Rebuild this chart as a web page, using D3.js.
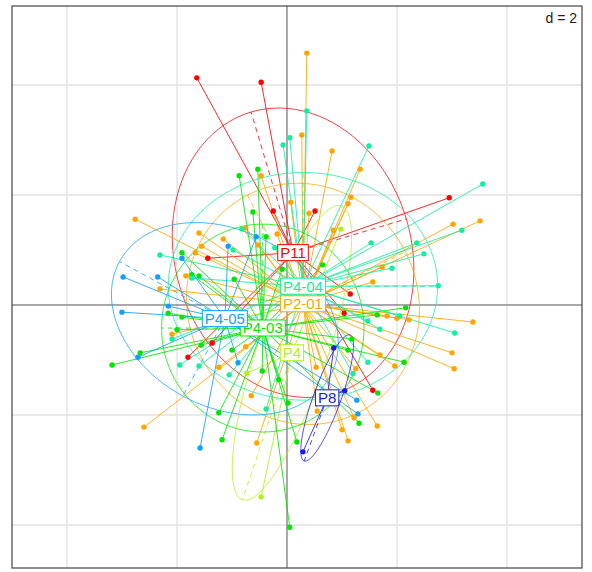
<!DOCTYPE html>
<html>
<head>
<meta charset="utf-8">
<script src="https://d3js.org/d3.v7.min.js"></script>
<style>
  body { margin: 0; background: #fff; }
  svg { display: block; }
</style>
</head>
<body>
<script>
// group names, drawing order and colours
const groups = ["P11", "P2-01", "P4", "P4-03", "P4-04", "P4-05", "P8"]
const colors = ["#ff0000", "#ffa500", "#b0f020", "#00e600", "#10f0a0", "#10a0ff", "#1a1ae6"]

// individual scores per group [x, y]
const ptsP11 = [[-1.64,4.13],[-0.47,4.05],[-0.25,1.71],[0.51,1.71],[2.95,1.95],[-1.44,0.85],
  [-1.36,-0.69],[-1.80,-0.95],[1.15,0.20],[1.04,-0.15],[1.56,-1.55]]
const ptsP201 = [[0.36,4.58],[0.27,3.09],[0.82,2.80],[1.33,2.47],[1.16,1.96],[1.11,1.84],[0.40,1.67],
  [0.84,1.36],[3.02,1.47],[3.51,1.53],[1.73,0.69],[1.56,0.42],[0.07,1.87],[-0.47,2.35],[-0.75,1.40],
  [-0.18,1.29],[-2.76,1.56],[-1.60,1.31],[-1.16,1.20],[-1.55,1.07],[-1.67,0.95],[-1.84,0.53],
  [-2.31,0.29],[-0.53,1.09],[-2.09,-0.53],[-2.60,-2.22],[-0.65,-1.65],[-0.55,-2.51],[-0.75,-0.76],
  [-1.24,-1.13],[1.82,-0.20],[2.00,-0.24],[2.22,-0.27],[3.38,-0.31],[3.00,-0.87],[3.04,-1.16],
  [1.69,-0.91],[1.96,-1.11],[1.25,-1.16],[0.53,-1.13],[1.64,-2.20],[1.00,-2.27],[1.11,-2.47],
  [1.22,-2.05],[0.55,-1.93]]
const ptsP4 = [[0.98,1.38],[-0.47,-3.49],[-0.73,-1.24]]
const ptsP403 = [[-0.87,2.35],[-0.53,2.47],[-0.62,1.69],[-0.38,1.24],[-1.91,0.95],[-1.73,0.55],
  [-1.60,0.53],[-0.96,0.47],[-0.09,0.65],[0.65,0.73],[-2.16,-0.15],[-1.91,-0.22],[-2.67,-0.87],
  [-3.18,-1.09],[-2.00,-0.45],[-1.56,-0.73],[-1.00,-0.82],[-1.24,-1.96],[-1.18,-2.45],[-0.45,-1.20],
  [-0.15,-1.36],[0.02,-1.78],[0.18,-2.49],[0.05,-4.04],[2.16,-0.05],[1.64,-0.18],[2.13,-1.04],
  [1.65,-1.60],[1.31,-2.15],[1.18,-0.62],[1.11,-0.82]]
const ptsP404 = [[0.05,3.04],[-0.07,2.91],[0.36,3.53],[1.49,2.89],[3.56,2.20],[3.18,1.36],[1.53,1.13],
  [2.36,1.13],[2.49,0.93],[1.91,0.67],[2.75,0.35],[-0.82,1.38],[-0.98,1.00],[-2.31,0.91],[-0.22,1.04],
  [1.47,-0.29],[1.69,-0.44],[3.05,-0.51],[1.47,-1.04],[1.20,-1.25],[2.05,-0.20],[-1.95,-1.09],
  [-1.60,-1.11],[-1.05,-1.27],[-0.38,-1.89],[-2.09,-0.62],[-1.73,0.49]]
const ptsP405 = [[-2.98,0.51],[-2.35,0.51],[-1.91,0.85],[-1.07,1.07],[-0.56,1.24],[-3.00,-0.13],
  [-2.16,-0.02],[-2.71,-0.95],[-1.58,-2.60],[-0.89,-1.05],[1.27,-1.73],[1.29,-1.98]]
const ptsP8 = [[0.29,-2.67],[0.85,-0.78],[1.05,-1.56]]
const points = [ptsP11, ptsP201, ptsP4, ptsP403, ptsP404, ptsP405, ptsP8]

// group centres (label positions)
const centres = [[0.11,0.95],[0.29,0.02],[0.09,-0.87],[-0.44,-0.42],[0.29,0.34],[-1.13,-0.25],[0.73,-1.69]]
// ellipses: semi-major, semi-minor, angle of major axis, angle of minor axis (degrees)
const ellipses = [[2.67,2.15,106.6,16.6],[2.22,2.09,117,27],[2.82,0.64,251.4,161.4],[1.89,1.84,90,180],
  [2.45,2.07,0,90],[2.18,1.60,151.5,241.5],[1.22,0.25,250,340]]

const gridTicks = [-4, -2, 0, 2, 4]
const gridLabel = "d = 2"

const width = 592, height = 572
const box = {left: 12, right: 582, top: 6, bottom: 568}

const x = d3.scaleLinear().domain([-5, 5.364]).range([box.left, box.right])
const y = d3.scaleLinear().domain([-4.782, 5.436]).range([box.bottom, box.top])

const svg = d3.select("body").append("svg")
  .attr("width", width)
  .attr("height", height)

svg.append("defs").append("clipPath").attr("id", "clip")
  .append("rect")
  .attr("x", box.left).attr("y", box.top)
  .attr("width", box.right - box.left).attr("height", box.bottom - box.top)

// grid
const grid = svg.append("g").attr("stroke", "#e2e2e2").attr("stroke-width", 1.3)
grid.selectAll(".gx").data(gridTicks.filter(d => d != 0)).join("line")
  .attr("x1", d => x(d)).attr("x2", d => x(d))
  .attr("y1", box.top).attr("y2", box.bottom)
grid.selectAll(".gy").data(gridTicks.filter(d => d != 0)).join("line")
  .attr("y1", d => y(d)).attr("y2", d => y(d))
  .attr("x1", box.left).attr("x2", box.right)

// axes through origin
svg.append("line").attr("x1", x(0)).attr("x2", x(0)).attr("y1", box.top).attr("y2", box.bottom)
  .attr("stroke", "#555").attr("stroke-width", 1)
svg.append("line").attr("y1", y(0)).attr("y2", y(0)).attr("x1", box.left).attr("x2", box.right)
  .attr("stroke", "#555").attr("stroke-width", 1)

const plot = svg.append("g").attr("clip-path", "url(#clip)")

function ellipsePath(c, e) {
  const [a, b, am] = e
  const r = am * Math.PI / 180
  const ux = Math.cos(r), uy = Math.sin(r)
  const pts = d3.range(0, 101).map(i => {
    const t = i / 100 * 2 * Math.PI
    const ex = c[0] + a * Math.cos(t) * ux - b * Math.sin(t) * uy
    const ey = c[1] + a * Math.cos(t) * uy + b * Math.sin(t) * ux
    return [x(ex), y(ey)]
  })
  return d3.line()(pts)
}

groups.forEach((g, i) => {
  const col = colors[i], c = centres[i], e = ellipses[i]
  const gg = plot.append("g")
  // stars
  gg.selectAll("line.star").data(points[i]).join("line")
    .attr("x1", x(c[0])).attr("y1", y(c[1]))
    .attr("x2", d => x(d[0])).attr("y2", d => y(d[1]))
    .attr("stroke", col).attr("stroke-opacity", 0.85).attr("stroke-width", 1)
  // ellipse
  gg.append("path").attr("d", ellipsePath(c, e))
    .attr("fill", "none").attr("stroke", col).attr("stroke-opacity", 0.75).attr("stroke-width", 1)
  // ellipse axes (dashed)
  ;[[e[0], e[2]], [e[1], e[3]]].forEach(([len, ang]) => {
    const r = ang * Math.PI / 180
    gg.append("line")
      .attr("x1", x(c[0])).attr("y1", y(c[1]))
      .attr("x2", x(c[0] + len * Math.cos(r))).attr("y2", y(c[1] + len * Math.sin(r)))
      .attr("stroke", col).attr("stroke-opacity", 0.8).attr("stroke-dasharray", "5,4")
  })
})

// points
groups.forEach((g, i) => {
  plot.append("g").selectAll("circle").data(points[i]).join("circle")
    .attr("cx", d => x(d[0])).attr("cy", d => y(d[1]))
    .attr("r", 2.7).attr("fill", colors[i])
})

// labels
groups.forEach((g, i) => {
  const c = centres[i]
  const lg = svg.append("g").attr("transform", `translate(${x(c[0])},${y(c[1])})`)
  const t = lg.append("text").text(g)
    .attr("text-anchor", "middle").attr("dy", "0.36em")
    .style("font", "15px 'Liberation Sans', Arial, sans-serif")
    .attr("fill", colors[i])
  const bb = t.node().getBBox()
  lg.insert("rect", "text")
    .attr("x", bb.x - 2.5).attr("y", bb.y + 0.5)
    .attr("width", bb.width + 5).attr("height", bb.height - 1)
    .attr("fill", "#fff").attr("stroke", colors[i]).attr("stroke-width", 1)
})

// frame
svg.append("rect").attr("x", box.left).attr("y", box.top)
  .attr("width", box.right - box.left).attr("height", box.bottom - box.top)
  .attr("fill", "none").attr("stroke", "#444").attr("stroke-width", 1.2)

svg.append("text").text(gridLabel)
  .attr("x", box.right - 5).attr("y", box.top + 17)
  .attr("text-anchor", "end")
  .style("font", "14px 'Liberation Sans', Arial, sans-serif")
  .attr("fill", "#222")
</script>
</body>
</html>
